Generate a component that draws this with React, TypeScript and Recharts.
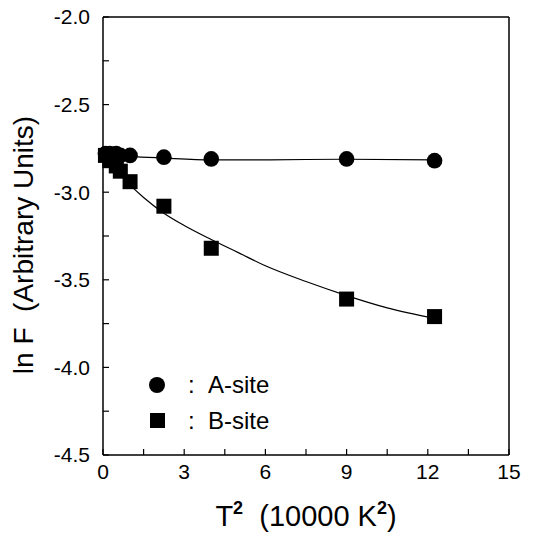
import React from 'react';
import { ComposedChart, Scatter, Line, XAxis, YAxis, ReferenceLine } from 'recharts';

const aSiteX = [0.09, 0.25, 0.49, 0.64, 1.0, 2.25, 4.0, 9.0, 12.25];
const aSiteY = [-2.78, -2.78, -2.78, -2.79, -2.79, -2.8, -2.81, -2.81, -2.82];
const bSiteX = [0.09, 0.25, 0.49, 0.64, 1.0, 2.25, 4.0, 9.0, 12.25];
const bSiteY = [-2.79, -2.82, -2.85, -2.88, -2.94, -3.08, -3.32, -3.61, -3.71];
const aFitX = [0, 1, 2.25, 4, 6, 9, 12.25];
const aFitY = [-2.78, -2.795, -2.805, -2.815, -2.815, -2.812, -2.815];
const bFitX = [0, 0.5, 1, 1.5, 2.25, 3, 4, 5, 6, 7.5, 9, 10.5, 12.25];
const bFitY = [-2.8, -2.88, -2.96, -3.03, -3.12, -3.19, -3.27, -3.345, -3.42, -3.51, -3.59, -3.66, -3.72];
const xTicks = [0, 1.5, 3, 4.5, 6, 7.5, 9, 10.5, 12, 13.5, 15];
const yTicks = [-4.5, -4.25, -4.0, -3.75, -3.5, -3.25, -3.0, -2.75, -2.5, -2.25, -2.0];
const legendLabels = ['A-site', 'B-site'];

const zip = (xs: number[], ys: number[]) => xs.map((x, i) => ({ x, y: ys[i] }));
const aData = zip(aSiteX, aSiteY);
const bData = zip(bSiteX, bSiteY);
const aFit = zip(aFitX, aFitY);
const bFit = zip(bFitX, bFitY);

const FONT = '"Liberation Sans", Arial, sans-serif';

const CircleShape = (props: any) => <circle cx={props.cx} cy={props.cy} r={7.8} fill="#000" />;
const SquareShape = (props: any) => <rect x={props.cx - 7.5} y={props.cy - 7.5} width={15} height={15} fill="#000" />;

const YTitle = (props: any) => {
  const vb = props.viewBox;
  const x = 23;
  const y = vb.y + vb.height / 2 + 9;
  return (
    <text x={x} y={y} transform={`rotate(-90, ${x}, ${y})`} textAnchor="middle" dominantBaseline="central"
      style={{ fontFamily: FONT, fontSize: 28, fill: '#000' }}>
      {'ln F\u00A0\u00A0(Arbitrary Units)'}
    </text>
  );
};

const XTitle = (props: any) => {
  const vb = props.viewBox;
  const x = vb.x + vb.width / 2;
  const y = 526;
  return (
    <text x={x} y={y} textAnchor="middle" style={{ fontFamily: FONT, fontSize: 29, fill: '#000' }}>
      T<tspan fontSize={18} fontWeight="bold" dy={-12}>2</tspan><tspan dy={12}>{'\u00A0\u00A0(10000 K'}</tspan><tspan fontSize={18} fontWeight="bold" dy={-12}>2</tspan><tspan dy={12}>)</tspan>
    </text>
  );
};

export default function App() {
  return (
    <div style={{ position: 'absolute', left: 0, top: 0, width: 534, height: 553, background: '#fff' }}>
      <ComposedChart width={534} height={553} margin={{ top: 17, right: 25, bottom: 38, left: 23 }}>
        <XAxis type="number" dataKey="x" domain={[0, 15]} ticks={xTicks} interval={0}
          tickFormatter={(v: number) => (v % 3 === 0 ? String(v) : '')}
          tickSize={-6} tickMargin={15} height={60}
          axisLine={{ stroke: '#000', strokeWidth: 1.5 }} tickLine={{ stroke: '#000', strokeWidth: 1.2 }}
          tick={{ fill: '#000', fontSize: 21, fontFamily: FONT }}
          label={<XTitle />} />
        <YAxis type="number" dataKey="y" domain={[-4.5, -2.0]} ticks={yTicks} interval={0}
          tickFormatter={(v: number) => (Math.abs(v * 2 - Math.round(v * 2)) < 1e-6 ? v.toFixed(1) : '')}
          tickSize={-6} tickMargin={19} width={80}
          axisLine={{ stroke: '#000', strokeWidth: 1.5 }} tickLine={{ stroke: '#000', strokeWidth: 1.2 }}
          tick={{ fill: '#000', fontSize: 21, fontFamily: FONT }}
          label={<YTitle />} />
        <ReferenceLine x={15} stroke="#000" strokeWidth={1.5} ifOverflow="extendDomain" />
        <ReferenceLine y={-2.0} stroke="#000" strokeWidth={1.5} ifOverflow="extendDomain" />
        <Line data={aFit} dataKey="y" type="monotone" stroke="#000" strokeWidth={1.2} dot={false} isAnimationActive={false} />
        <Line data={bFit} dataKey="y" type="monotone" stroke="#000" strokeWidth={1.2} dot={false} isAnimationActive={false} />
        <Scatter data={aData} dataKey="y" shape={<CircleShape />} isAnimationActive={false} />
        <Scatter data={bData} dataKey="y" shape={<SquareShape />} isAnimationActive={false} />
      </ComposedChart>
      <svg width={534} height={553} style={{ position: 'absolute', left: 0, top: 0, pointerEvents: 'none' }}>
        <circle cx={157} cy={385} r={8} fill="#000" />
        <text x={188} y={393} style={{ fontFamily: FONT, fontSize: 24 }}>:</text>
        <text x={208} y={393} style={{ fontFamily: FONT, fontSize: 24 }}>{legendLabels[0]}</text>
        <rect x={150} y={413} width={15} height={15} fill="#000" />
        <text x={188} y={429} style={{ fontFamily: FONT, fontSize: 24 }}>:</text>
        <text x={208} y={429} style={{ fontFamily: FONT, fontSize: 24 }}>{legendLabels[1]}</text>
      </svg>
    </div>
  );
}
